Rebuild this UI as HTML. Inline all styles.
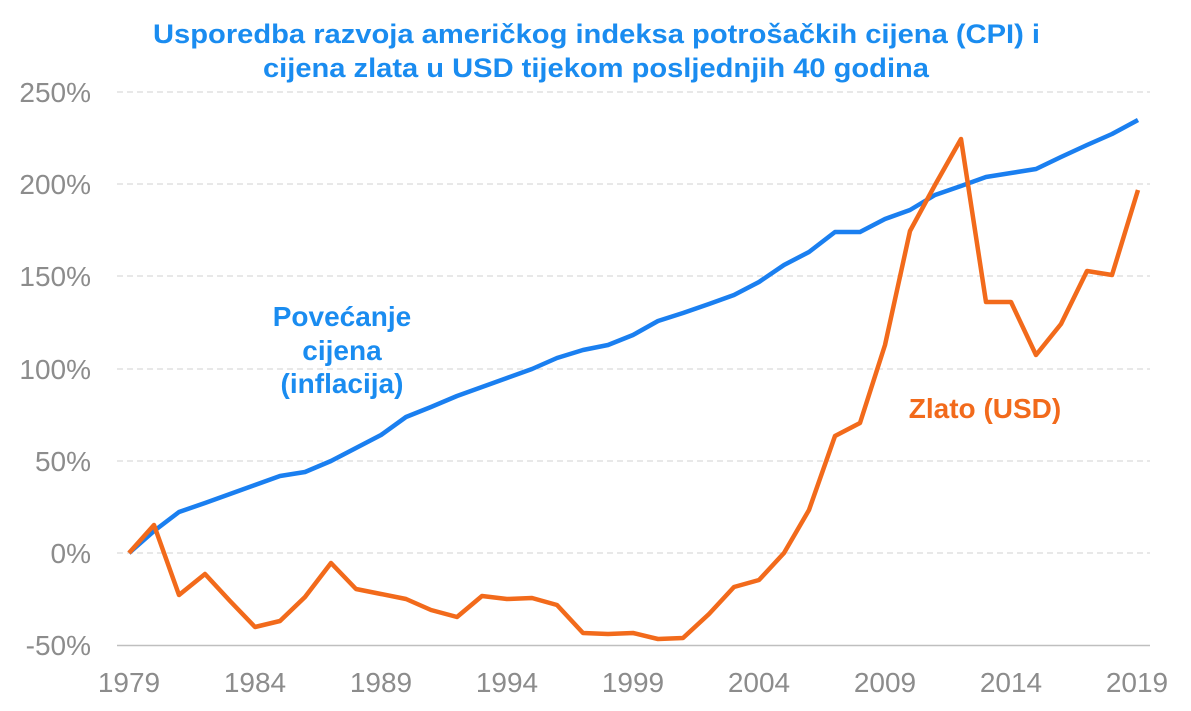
<!DOCTYPE html>
<html><head><meta charset="utf-8"><style>
html,body{margin:0;padding:0;background:#fff;}
svg{display:block;}
text{font-family:"Liberation Sans",Arial,sans-serif;}
</style></head><body>
<svg width="1191" height="711" viewBox="0 0 1191 711" xmlns="http://www.w3.org/2000/svg">
<rect width="1191" height="711" fill="#fff"/>
<text x="153" y="43" textLength="887" lengthAdjust="spacingAndGlyphs" font-size="27" font-weight="bold" fill="#1a8cf0">Usporedba razvoja američkog indeksa potrošačkih cijena (CPI) i</text>
<text x="263" y="77" textLength="666" lengthAdjust="spacingAndGlyphs" font-size="27" font-weight="bold" fill="#1a8cf0">cijena zlata u USD tijekom posljednjih 40 godina</text>
<g stroke="#d9d9d9" stroke-width="1.3" stroke-dasharray="6,4">
<line x1="117" y1="92" x2="1150" y2="92"/>
<line x1="117" y1="184" x2="1150" y2="184"/>
<line x1="117" y1="276" x2="1150" y2="276"/>
<line x1="117" y1="369" x2="1150" y2="369"/>
<line x1="117" y1="461" x2="1150" y2="461"/>
<line x1="117" y1="553" x2="1150" y2="553"/>
</g>
<line x1="117" y1="645.5" x2="1150" y2="645.5" stroke="#bfbfbf" stroke-width="1.5"/>
<g font-size="28" fill="#8c8c8c" text-anchor="end">
<text x="91" y="102">250%</text>
<text x="91" y="194">200%</text>
<text x="91" y="286">150%</text>
<text x="91" y="379">100%</text>
<text x="91" y="471">50%</text>
<text x="91" y="563">0%</text>
<text x="91" y="655">-50%</text>
</g>
<g font-size="28" fill="#8c8c8c" text-anchor="middle">
<text x="129" y="692">1979</text>
<text x="255" y="692">1984</text>
<text x="381" y="692">1989</text>
<text x="507" y="692">1994</text>
<text x="633" y="692">1999</text>
<text x="759" y="692">2004</text>
<text x="885" y="692">2009</text>
<text x="1011" y="692">2014</text>
<text x="1137" y="692">2019</text>
</g>
<polyline fill="none" stroke="#1a7ff0" stroke-width="4.5" stroke-linejoin="round" points="129,553 154,531 179,512 205,503 230,494 255,485 280,476 305,472 331,461 356,448 381,435 406,417 431,407 457,396 482,387 507,378 532,369 557,358 583,350 608,345 633,335 658,321 683,313 709,304 734,295 759,282 784,265 809,252 835,232 860,232 885,219 910,210 935,195 961,186 986,177 1011,173 1036,169 1061,157 1087,145 1112,134 1138,120"/>
<polyline fill="none" stroke="#f26a1b" stroke-width="4.5" stroke-linejoin="round" points="129,553 154,525 179,595 205,574 230,601 255,627 280,621 305,597 331,563 356,589 381,594 406,599 431,610 457,617 482,596 507,599 532,598 557,605 583,633 608,634 633,633 658,639 683,638 709,614 734,587 759,580 784,553 809,510 835,436 860,423 885,345 910,231 935,185 961,139 986,302 1011,302 1036,355 1061,324 1087,271 1112,275 1138,190"/>
<g font-size="28" font-weight="bold" fill="#1a8cf0" text-anchor="middle">
<text x="342" y="326">Povećanje</text>
<text x="342" y="360">cijena</text>
<text x="342" y="393">(inflacija)</text>
</g>
<text x="985" y="418" text-anchor="middle" font-size="28" font-weight="bold" fill="#f26a1b">Zlato (USD)</text>
</svg>
</body></html>
